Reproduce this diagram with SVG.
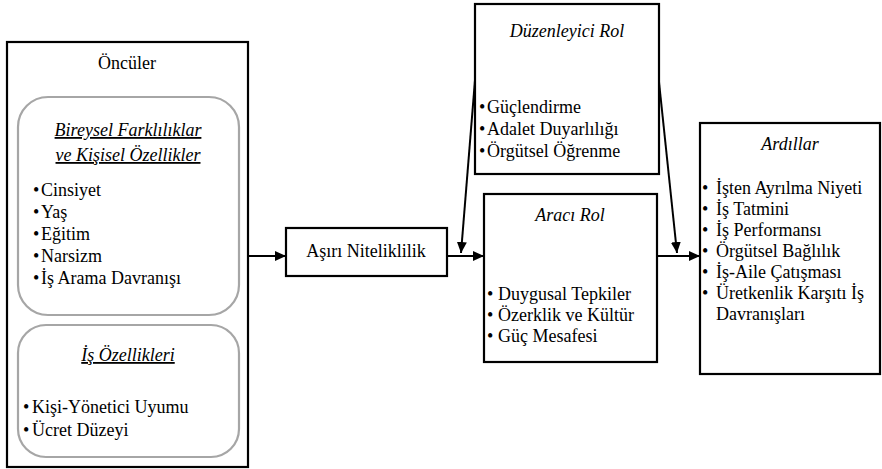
<svg xmlns="http://www.w3.org/2000/svg" width="882" height="469" viewBox="0 0 882 469" font-family="'Liberation Serif', 'DejaVu Serif', serif">
<defs>
<marker id="ah" markerUnits="userSpaceOnUse" markerWidth="12" markerHeight="10" refX="11" refY="5" orient="auto">
<path d="M0,0 L11,5 L0,10 z" fill="#000"/>
</marker>
<style>
text{font-family:'Liberation Serif','DejaVu Serif',serif;font-size:18px;fill:#000}
.it{font-style:italic}
.u{text-decoration:underline}
.box{fill:#fff;stroke:#000;stroke-width:2.2}
.rbox{fill:#fff;stroke:#a6a6a6;stroke-width:2.2}
.c{text-anchor:middle}
.ln{stroke:#000;stroke-width:2;fill:none;marker-end:url(#ah)}
</style>
</defs>
<rect width="882" height="469" fill="#fff"/>
<g id="oncul">
<rect class="box" x="7" y="42" width="241" height="425"/>
<text class="c" x="127" y="69">Öncüler</text>
</g>
<g id="bireysel">
<rect class="rbox" x="18" y="97" width="221" height="218" rx="30"/>
<text class="c it u" x="128" y="136">Bireysel Farklılıklar</text>
<text class="c it u" x="128" y="161">ve Kişisel Özellikler</text>
<text x="33" y="196"><tspan x="33">•</tspan><tspan x="41">Cinsiyet</tspan></text>
<text x="33" y="218"><tspan x="33">•</tspan><tspan x="41">Yaş</tspan></text>
<text x="33" y="240"><tspan x="33">•</tspan><tspan x="41">Eğitim</tspan></text>
<text x="33" y="262"><tspan x="33">•</tspan><tspan x="41">Narsizm</tspan></text>
<text x="33" y="284"><tspan x="33">•</tspan><tspan x="41">İş Arama Davranışı</tspan></text>
</g>
<g id="isozel">
<rect class="rbox" x="18" y="325" width="221" height="132" rx="28"/>
<text class="c it u" x="128" y="361">İş Özellikleri</text>
<text x="23" y="413"><tspan x="23">•</tspan><tspan x="32">Kişi-Yönetici Uyumu</tspan></text>
<text x="23" y="436"><tspan x="23">•</tspan><tspan x="32">Ücret Düzeyi</tspan></text>
</g>
<g id="asiri">
<rect class="box" x="286" y="228" width="161" height="48"/>
<text class="c" x="366" y="257">Aşırı Niteliklilik</text>
</g>
<g id="duzen">
<rect class="box" x="475" y="4" width="184" height="170"/>
<text class="c it" x="567" y="37">Düzenleyici Rol</text>
<text y="113"><tspan x="479">•</tspan><tspan x="487">Güçlendirme</tspan></text>
<text y="135"><tspan x="479">•</tspan><tspan x="487">Adalet Duyarlılığı</tspan></text>
<text y="157"><tspan x="479">•</tspan><tspan x="487">Örgütsel Öğrenme</tspan></text>
</g>
<g id="araci">
<rect class="box" x="484" y="194" width="173" height="168"/>
<text class="c it" x="570" y="221">Aracı Rol</text>
<text y="300"><tspan x="487">•</tspan><tspan x="498">Duygusal Tepkiler</tspan></text>
<text y="321"><tspan x="487">•</tspan><tspan x="498">Özerklik ve Kültür</tspan></text>
<text y="342"><tspan x="487">•</tspan><tspan x="498">Güç Mesafesi</tspan></text>
</g>
<g id="ardil">
<rect class="box" x="700" y="123" width="180" height="251"/>
<text class="c it" x="790" y="150">Ardıllar</text>
<text y="194"><tspan x="702">•</tspan><tspan x="716">İşten Ayrılma Niyeti</tspan></text>
<text y="215"><tspan x="702">•</tspan><tspan x="716">İş Tatmini</tspan></text>
<text y="236"><tspan x="702">•</tspan><tspan x="716">İş Performansı</tspan></text>
<text y="257"><tspan x="702">•</tspan><tspan x="716">Örgütsel Bağlılık</tspan></text>
<text y="278"><tspan x="702">•</tspan><tspan x="716">İş-Aile Çatışması</tspan></text>
<text y="299"><tspan x="702">•</tspan><tspan x="716">Üretkenlik Karşıtı İş</tspan></text>
<text y="320"><tspan x="716">Davranışları</tspan></text>
</g>
<g id="connectors">
<line class="ln" x1="248" y1="256" x2="286" y2="256"/>
<line class="ln" x1="447" y1="256" x2="484" y2="256"/>
<line class="ln" x1="657" y1="256" x2="700" y2="256"/>
<line class="ln" x1="475" y1="80" x2="461" y2="253"/>
<line class="ln" x1="659" y1="82" x2="677" y2="253"/>
</g>
</svg>
